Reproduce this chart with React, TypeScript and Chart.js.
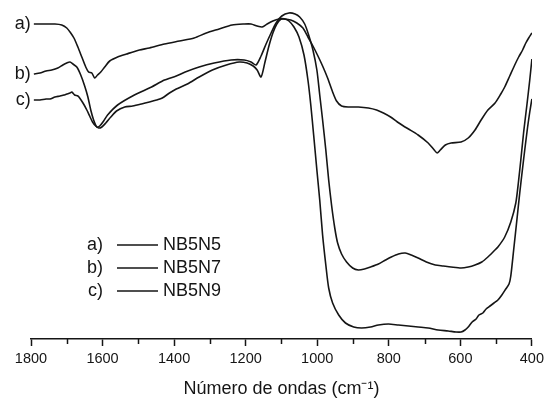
import React, { useEffect, useRef } from "react";
import { Chart, registerables } from "chart.js";

Chart.register(...registerables);

// Wavenumbers (cm-1) and transmittance (arbitrary units)
const wnA = [1792, 1761, 1733, 1714, 1700, 1689, 1680, 1669, 1658, 1647, 1639, 1630, 1622, 1614, 1605, 1594, 1580, 1558, 1533, 1497, 1469, 1427, 1385, 1344, 1310, 1274, 1238, 1204, 1185, 1168, 1154, 1140, 1124, 1107, 1093, 1074, 1057, 1040, 1026, 1012, 998, 985, 971, 957, 946, 932, 912, 885, 857, 834, 815, 795, 776, 759, 745, 718, 690, 673, 665, 656, 642, 626, 598, 578, 559, 542, 523, 503, 487, 476, 462, 448, 437, 426, 417, 409, 400];
const tA = [315, 315, 315, 314, 311, 306, 301, 292, 282, 272, 267, 266, 261, 264, 267, 272, 278, 282, 285, 289, 291, 295, 298, 301, 306, 310, 314, 315, 315, 313, 312, 315, 318, 320, 320, 319, 316, 311, 302, 293, 283, 273, 261, 247, 238, 233, 232, 232, 231, 229, 226, 222, 217, 213, 210, 204, 196, 189, 186, 189, 194, 196, 197, 201, 209, 219, 229, 236, 245, 252, 263, 274, 282, 289, 296, 301, 306];

const wnB = [1792, 1775, 1758, 1742, 1725, 1711, 1700, 1691, 1683, 1672, 1661, 1650, 1641, 1633, 1625, 1616, 1608, 1597, 1586, 1558, 1511, 1463, 1427, 1394, 1369, 1330, 1288, 1241, 1204, 1185, 1171, 1157, 1143, 1129, 1115, 1099, 1079, 1062, 1049, 1035, 1024, 1012, 1001, 993, 985, 976, 968, 960, 951, 943, 932, 918, 901, 885, 868, 851, 829, 809, 793, 773, 754, 737, 718, 695, 670, 648, 626, 598, 578, 559, 540, 523, 506, 495, 476, 459, 445, 437, 431, 423, 414, 406, 400];
const tB = [265, 266, 268, 269, 271, 274, 276, 277, 275, 272, 264, 253, 242, 229, 219, 212, 213, 218, 224, 234, 244, 252, 259, 263, 267, 272, 276, 279, 279, 277, 274, 283, 295, 306, 316, 323, 326, 325, 322, 315, 304, 289, 269, 244, 219, 189, 159, 134, 111, 96, 85, 77, 71, 69, 70, 72, 75, 79, 82, 85, 86, 84, 81, 77, 74, 73, 72, 71, 72, 74, 77, 82, 88, 92, 102, 117, 136, 159, 179, 207, 234, 259, 280];

const wnC = [1792, 1775, 1758, 1747, 1733, 1719, 1708, 1700, 1691, 1686, 1678, 1669, 1664, 1653, 1644, 1636, 1628, 1619, 1611, 1602, 1591, 1577, 1561, 1538, 1516, 1491, 1469, 1449, 1433, 1413, 1394, 1363, 1330, 1293, 1254, 1218, 1196, 1179, 1168, 1157, 1146, 1135, 1124, 1113, 1101, 1090, 1079, 1065, 1051, 1037, 1026, 1018, 1010, 1001, 993, 985, 976, 968, 957, 940, 921, 898, 876, 851, 829, 801, 773, 745, 718, 690, 662, 634, 612, 598, 587, 578, 567, 556, 548, 537, 528, 517, 506, 495, 484, 473, 464, 459, 451, 442, 434, 426, 420, 412, 406, 400];
const tC = [239, 239, 240, 240, 242, 243, 244, 245, 246, 247, 244, 243, 241, 235, 229, 223, 217, 213, 211, 212, 216, 222, 228, 232, 233, 235, 237, 239, 241, 246, 250, 255, 262, 269, 274, 277, 276, 273, 269, 262, 277, 293, 306, 315, 320, 320, 318, 312, 302, 284, 259, 234, 204, 169, 139, 104, 74, 51, 36, 24, 16, 12, 11, 12, 14, 15, 14, 13, 12, 11, 9, 8, 7, 7, 9, 12, 17, 20, 24, 26, 30, 33, 36, 39, 44, 50, 55, 63, 89, 119, 146, 171, 189, 212, 227, 240];

const seriesNames = ["NB5N5", "NB5N7", "NB5N9"];
const seriesTags = ["a)", "b)", "c)"];
const majorTicks = [1800, 1600, 1400, 1200, 1000, 800, 600, 400];
const minorTicks = [1700, 1500, 1300, 1100, 900, 700, 500];

const FONT = "'Liberation Sans', Arial, Helvetica, sans-serif";
const INK = "#151515";

const toPoints = (xs: number[], ys: number[]) => xs.map((x, i) => ({ x, y: ys[i] }));

const annotations = {
  id: "annotations",
  afterDraw(chart: any) {
    const { ctx, scales } = chart;
    const xs = scales.x;
    const ys = scales.y;
    ctx.save();
    // minor ticks
    ctx.strokeStyle = INK;
    ctx.lineWidth = 1.5;
    const yb = chart.chartArea.bottom;
    minorTicks.forEach((v) => {
      const px = Math.round(xs.getPixelForValue(v)) + 0.5;
      ctx.beginPath();
      ctx.moveTo(px, yb);
      ctx.lineTo(px, yb + 5);
      ctx.stroke();
    });
    // curve tags at the start of each curve
    ctx.fillStyle = INK;
    ctx.font = `18px ${FONT}`;
    ctx.textBaseline = "middle";
    ctx.textAlign = "right";
    chart.data.datasets.forEach((ds: any, i: number) => {
      const p = ds.data[0];
      ctx.fillText(seriesTags[i], xs.getPixelForValue(p.x) - 3, ys.getPixelForValue(p.y));
    });
    // legend block
    const lx = 103;
    const rows = [245, 268, 291];
    chart.data.datasets.forEach((ds: any, i: number) => {
      const y = rows[i];
      ctx.textAlign = "right";
      ctx.fillText(seriesTags[i], lx, y);
      ctx.beginPath();
      ctx.lineWidth = 1.6;
      ctx.moveTo(117, y);
      ctx.lineTo(158, y);
      ctx.stroke();
      ctx.textAlign = "left";
      ctx.fillText(ds.label, 163, y);
    });
    ctx.restore();
  },
};

export default function App() {
  const ref = useRef<HTMLCanvasElement | null>(null);
  useEffect(() => {
    if (!ref.current) return;
    const mk = (label: string, xs: number[], ys: number[]) => ({
      label,
      data: toPoints(xs, ys),
      borderColor: INK,
      borderWidth: 1.6,
      pointRadius: 0,
      tension: 0.25,
      fill: false,
    });
    const chart = new Chart(ref.current, {
      type: "line",
      data: {
        datasets: [
          mk(seriesNames[0], wnA, tA),
          mk(seriesNames[1], wnB, tB),
          mk(seriesNames[2], wnC, tC),
        ],
      },
      options: {
        responsive: false,
        animation: false,
        devicePixelRatio: 1,
        layout: { padding: { left: 31, right: 14, top: 0, bottom: 0 } },
        plugins: { legend: { display: false }, tooltip: { enabled: false } },
        scales: {
          x: {
            type: "linear",
            reverse: true,
            min: 400,
            max: 1800,
            afterFit: (s: any) => {
              s.height = 59;
            },
            afterBuildTicks: (s: any) => {
              s.ticks = majorTicks.map((v) => ({ value: v }));
            },
            border: { display: true, color: INK, width: 1.5 },
            grid: {
              display: true,
              drawOnChartArea: false,
              drawTicks: true,
              tickLength: 7,
              tickColor: INK,
              tickWidth: 1.5,
            },
            ticks: {
              color: INK,
              padding: 4,
              maxRotation: 0,
              autoSkip: false,
              font: { family: FONT, size: 14.5 },
              callback: (v: any) => String(v),
            },
            title: {
              display: true,
              text: "Número de ondas (cm⁻¹)",
              color: INK,
              font: { family: FONT, size: 18, lineHeight: 1 },
              padding: { top: 0, bottom: 0 },
            },
          },
          y: { display: false, min: 0, max: 339 },
        },
      },
      plugins: [annotations],
    });
    return () => chart.destroy();
  }, []);
  return (
    <div style={{ position: "fixed", left: 0, top: 0, width: 548, height: 398, background: "#fff" }}>
      <canvas ref={ref} width={548} height={398} style={{ display: "block", width: 548, height: 398 }} />
    </div>
  );
}
